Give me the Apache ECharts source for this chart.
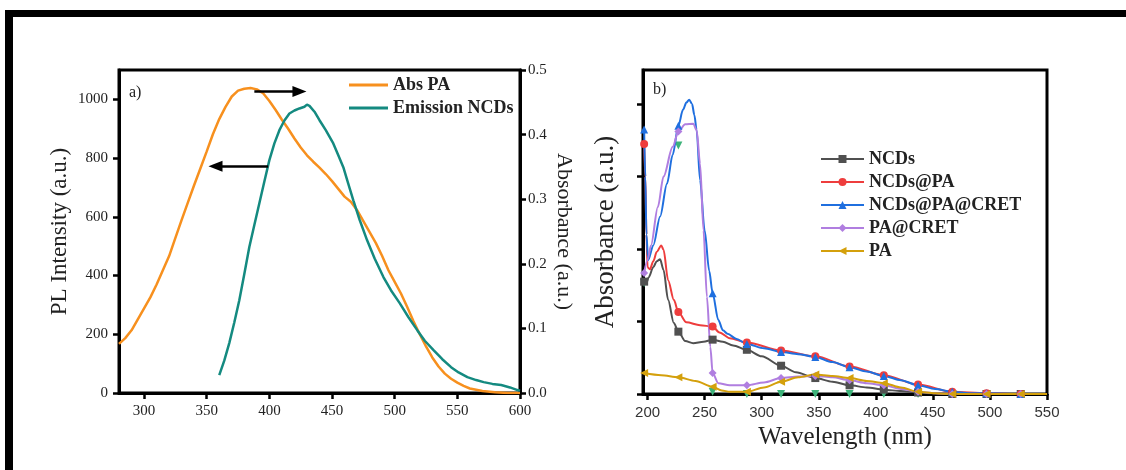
<!DOCTYPE html>
<html><head><meta charset="utf-8">
<script src="https://cdn.jsdelivr.net/npm/echarts@6/dist/echarts.min.js"></script>
<style>html,body{margin:0;padding:0;background:#fff}#c{width:1126px;height:470px}</style>
</head><body><div id="c"></div><script>
// ---------- Panel a) ----------
const absPaWl = [280,285,290,295,300,305,310,315,320,325,330,335,340,345,350,355,360,365,370,375,380,385,390,395,400,405,410,415,420,425,430,435,440,445,450,455,460,465,470,475,480,485,490,495,500,505,510,515,520,525,530,535,540,545,550,555,560,570,580,590,600];
const absPaVal = [0.076,0.085,0.097,0.114,0.131,0.148,0.168,0.190,0.212,0.240,0.268,0.295,0.322,0.348,0.374,0.401,0.424,0.443,0.459,0.468,0.471,0.472,0.470,0.464,0.452,0.438,0.423,0.409,0.394,0.380,0.368,0.358,0.349,0.339,0.328,0.316,0.304,0.296,0.283,0.266,0.249,0.232,0.212,0.190,0.172,0.154,0.133,0.111,0.091,0.072,0.055,0.041,0.030,0.022,0.016,0.011,0.007,0.003,0.001,0.000,0.000];
const emWl = [360,364,368,372,376,380,384,388,392,396,400,404,408,412,416,420,424,428,430,432,436,440,445,451,455,459,463,467,472,478,484,491,497,504,511,518,524,531,538,545,551,558,565,571,578,585,592,598,600];
const emVal = [61,110,170,240,316,405,497,572,646,720,793,850,895,928,952,962,969,975,982,978,958,929,895,850,810,769,712,656,590,520,458,395,350,306,258,214,178,146,115,88,70,54,44,37,31,27,19,10,8];
const aXTicks = [300,350,400,450,500,550,600];
const aYTicks = [0,200,400,600,800,1000];
const aY2Ticks = [0,0.1,0.2,0.3,0.4,0.5];
// arrows: [x1,y1,x2,y2] in (nm, PL) units
const arrowRight = [388,1027,424,1027];
const arrowLeft = [399,772,357,772];

// ---------- Panel b) ----------
const markerWl = [197,227,257,287,317,347,377,407,437,467,497,527];
const ncdsWl = [197,199,201,205,208,211,214,218,223,227,233,240,249,257,266,275,287,300,317,330,347,362,377,392,407,422,437,452,467,497,527,550];
const ncdsVal = [0.155,0.153,0.161,0.175,0.183,0.186,0.171,0.130,0.098,0.086,0.073,0.070,0.072,0.075,0.072,0.067,0.061,0.052,0.039,0.030,0.022,0.017,0.012,0.009,0.006,0.004,0.002,0.001,0.000,0.000,0.000,0.000];
const ncdsPaWl = [197,198,199,200,202,205,208,212,214,218,223,227,234,246,257,263,272,287,317,347,377,407,437,467,497,527,550];
const ncdsPaVal = [0.345,0.300,0.220,0.175,0.172,0.183,0.196,0.205,0.199,0.157,0.130,0.113,0.099,0.095,0.093,0.085,0.077,0.071,0.060,0.052,0.038,0.026,0.013,0.003,0.001,0.000,0.000];
const ncdsPaCretWl = [197,198,199,200.5,205,211,217,222,227,231,234,236.5,239,241,243,246,250,254,257,262,266,270,278,287,302,317,332,347,362,377,392,407,422,437,452,467,482,497,527,550];
const ncdsPaCretVal = [0.365,0.300,0.220,0.185,0.205,0.245,0.290,0.330,0.370,0.392,0.402,0.406,0.400,0.385,0.364,0.295,0.226,0.170,0.139,0.102,0.088,0.083,0.076,0.069,0.063,0.058,0.055,0.051,0.044,0.037,0.031,0.025,0.019,0.012,0.007,0.003,0.001,0.001,0.000,0.000];
const paCretWl = [197,200,203,209,214,222,227,233,240,243,246,249,252,255,257,262,272,287,302,317,332,347,362,377,392,407,422,437,452,467,497,527,550];
const paCretVal = [0.167,0.185,0.205,0.258,0.300,0.341,0.362,0.372,0.373,0.364,0.318,0.226,0.134,0.065,0.029,0.015,0.012,0.012,0.016,0.022,0.024,0.025,0.023,0.019,0.015,0.012,0.007,0.003,0.001,0.000,0.000,0.000,0.000];
const paWl = [197,212,227,242,257,265,272,287,302,317,332,347,362,377,392,407,422,437,452,467,497,527,550];
const paVal = [0.029,0.026,0.023,0.018,0.010,0.005,0.003,0.003,0.009,0.017,0.023,0.027,0.025,0.022,0.018,0.015,0.009,0.003,0.001,0.000,0.000,0.000,0.000];
const extraWl = [197,227,257,287,317,347,377,407,437,467,497,527];
const extraVal = [0.153,0.343,0.003,0.000,0.000,0.000,0.000,0.000,0.000,0.000,0.000,0.000];
const bXTicks = [200,250,300,350,400,450,500,550];
const bYTicks = [0,0.1,0.2,0.3,0.4];

const names = ['NCDs','NCDs@PA','NCDs@PA@CRET','PA@CRET','PA'];

const pairs = (xs, ys) => xs.map((x, i) => [x, ys[i]]);
const mset = new Set(markerWl);
const symSize = v => (mset.has(v[0]) ? 8 : 0);
const SERIF = "'Liberation Serif','Times New Roman',serif";
const SANS = "'Liberation Sans',Arial,sans-serif";

const chart = echarts.init(document.getElementById('c'), null, {renderer: 'canvas'});

function bLine(name, xs, ys, color, symbol, rot) {
  return {
    name, type: 'line', xAxisIndex: 1, yAxisIndex: 2,
    data: pairs(xs, ys), smooth: 0.3, smoothMonotone: 'x',
    symbol, symbolRotate: rot || 0, symbolSize: symSize, showAllSymbol: true,
    itemStyle: {color}, lineStyle: {color, width: 2}, z: 3
  };
}

const axisLine = {show: true, onZero: false, lineStyle: {color: '#000', width: 3}};
const tick = vals => ({show: true, inside: false, length: 6, lineStyle: {color: '#000', width: 2.5}, customValues: vals});

chart.setOption({
  animation: false,
  backgroundColor: '#fff',
  title: [
    {text: 'a)', left: 124, top: 80, textStyle: {fontFamily: SERIF, fontWeight: 'normal', fontSize: 16, color: '#222'}},
    {text: 'b)', left: 648, top: 77, textStyle: {fontFamily: SERIF, fontWeight: 'normal', fontSize: 16, color: '#222'}}
  ],
  grid: [
    {left: 119, top: 70, width: 401, height: 323, show: true, borderColor: '#000', borderWidth: 3, backgroundColor: 'transparent'},
    {left: 643, top: 70, width: 404, height: 324, show: true, borderColor: '#000', borderWidth: 3, backgroundColor: 'transparent'}
  ],
  legend: [
    {data: ['Abs PA', 'Emission NCDs'], orient: 'vertical', left: 349, top: 76, padding: 0, itemWidth: 39, itemHeight: 3, itemGap: 5, icon: 'rect',
     textStyle: {fontFamily: SERIF, fontWeight: 'bold', fontSize: 18, color: '#222'}},
    {data: names, orient: 'vertical', left: 820, top: 150, padding: 0, itemWidth: 43, itemHeight: 10, itemGap: 5,
     textStyle: {fontFamily: SERIF, fontWeight: 'bold', fontSize: 18, color: '#222'}}
  ],
  xAxis: [
    {type: 'value', gridIndex: 0, min: 280, max: 600, axisLine, axisTick: tick(aXTicks), splitLine: {show: false},
     axisLabel: {customValues: aXTicks, margin: 11, fontFamily: SERIF, fontSize: 15, color: '#222'}},
    {type: 'value', gridIndex: 1, min: 196, max: 550, axisLine, axisTick: tick(bXTicks), splitLine: {show: false},
     axisLabel: {customValues: bXTicks, margin: 11, fontFamily: SANS, fontSize: 15, color: '#333'},
     name: 'Wavelength (nm)', nameLocation: 'middle', nameGap: 30,
     nameTextStyle: {fontFamily: SERIF, fontSize: 25, color: '#222'}}
  ],
  yAxis: [
    {type: 'value', gridIndex: 0, min: 0, max: 1100, position: 'left', axisLine, axisTick: tick(aYTicks), splitLine: {show: false},
     axisLabel: {customValues: aYTicks, margin: 11, fontFamily: SERIF, fontSize: 15, color: '#222', formatter: v => String(v)},
     name: 'PL Intensity (a.u.)', nameLocation: 'middle', nameGap: 48, nameRotate: 90,
     nameTextStyle: {fontFamily: SERIF, fontSize: 23, color: '#222'}},
    {type: 'value', gridIndex: 0, min: 0, max: 0.5, position: 'right', axisLine, axisTick: tick(aY2Ticks), splitLine: {show: false},
     axisLabel: {customValues: aY2Ticks, margin: 8, fontFamily: SERIF, fontSize: 15, color: '#222', formatter: v => v.toFixed(1)},
     name: 'Absorbance (a.u.)', nameLocation: 'middle', nameGap: 33, nameRotate: -90,
     nameTextStyle: {fontFamily: SERIF, fontSize: 22, color: '#222'}},
    {type: 'value', gridIndex: 1, min: 0, max: 0.447, position: 'left', axisLine, axisTick: tick(bYTicks), splitLine: {show: false},
     axisLabel: {show: false},
     name: 'Absorbance (a.u.)', nameLocation: 'middle', nameGap: 24, nameRotate: 90,
     nameTextStyle: {fontFamily: SERIF, fontSize: 27, color: '#222'}}
  ],
  series: [
    {name: 'Abs PA', type: 'line', xAxisIndex: 0, yAxisIndex: 1, data: pairs(absPaWl, absPaVal), symbol: 'none',
     itemStyle: {color: '#F7901E'}, lineStyle: {color: '#F7901E', width: 2.5}, z: 3},
    {name: 'Emission NCDs', type: 'line', xAxisIndex: 0, yAxisIndex: 0, data: pairs(emWl, emVal), symbol: 'none',
     itemStyle: {color: '#148A80'}, lineStyle: {color: '#148A80', width: 2.5}, z: 3,
     markLine: {silent: true, symbol: ['none', 'triangle'], symbolSize: [11, 14],
       lineStyle: {color: '#000', width: 2.5, type: 'solid'}, itemStyle: {color: '#000'}, label: {show: false},
       emphasis: {disabled: true},
       data: [
         [{coord: [arrowRight[0], arrowRight[1]]}, {coord: [arrowRight[2], arrowRight[3]]}],
         [{coord: [arrowLeft[0], arrowLeft[1]]}, {coord: [arrowLeft[2], arrowLeft[3]]}]
       ]}},
    bLine(names[0], ncdsWl, ncdsVal, '#505050', 'rect'),
    bLine(names[1], ncdsPaWl, ncdsPaVal, '#EE3D3D', 'circle'),
    bLine(names[2], ncdsPaCretWl, ncdsPaCretVal, '#1F6FDF', 'triangle'),
    bLine(names[3], paCretWl, paCretVal, '#B07EE0', 'diamond'),
    bLine(names[4], paWl, paVal, '#D4A00C', 'triangle', 90),
    {name: 'extra', type: 'line', xAxisIndex: 1, yAxisIndex: 2, data: pairs(extraWl, extraVal),
     symbol: 'triangle', symbolRotate: 180, symbolSize: 8, itemStyle: {color: '#3DB37A'}, lineStyle: {opacity: 0}, z: 2}
  ],
  graphic: [
    {type: 'rect', shape: {x: 5, y: 10, width: 1121, height: 7}, style: {fill: '#000'}, silent: true},
    {type: 'rect', shape: {x: 5, y: 10, width: 8, height: 460}, style: {fill: '#000'}, silent: true}
  ]
});
</script></body></html>
